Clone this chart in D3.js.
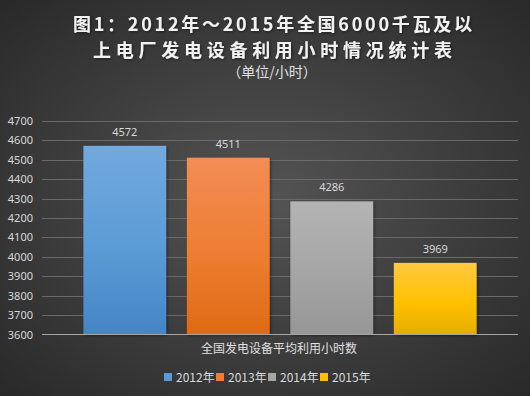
<!DOCTYPE html>
<html>
<head>
<meta charset="utf-8">
<script src="https://cdn.jsdelivr.net/npm/d3@7"></script>
<style>
  html, body { margin: 0; padding: 0; background: #333; }
  svg { display: block; font-family: "Noto Sans CJK SC", "Noto Sans", sans-serif; }
</style>
</head>
<body>
<div id="chart"></div>
<script>
const years = ["2012年", "2013年", "2014年", "2015年"];
const hours = [4572, 4511, 4286, 3969];
const yTicks = [3600, 3700, 3800, 3900, 4000, 4100, 4200, 4300, 4400, 4500, 4600, 4700];
const titleLines = ["图1：2012年～2015年全国6000千瓦及以", "上电厂发电设备利用小时情况统计表"];
const subTitle = "（单位/小时）";
const categoryName = "全国发电设备平均利用小时数";
// top, middle, bottom colour of each bar gradient
const barColors = [
  ["#72a9de", "#5b9bd5", "#4485c6"],
  ["#f28d55", "#ed7d31", "#df6a14"],
  ["#b4b4b4", "#a5a5a5", "#969696"],
  ["#ffc940", "#ffc000", "#e5ad00"]
];

const width = 530, height = 396;
const plotLeft = 42, plotRight = 518, plotTop = 121, plotBottom = 334.5;

const svg = d3.select('#chart').append('svg')
  .attr('width', width)
  .attr('height', height);

const defs = svg.append('defs');

const bg = defs.append('radialGradient')
  .attr('id', 'bg')
  .attr('cx', '50%').attr('cy', '50%').attr('r', '75%');
bg.append('stop').attr('offset', '0%').attr('stop-color', '#545454');
bg.append('stop').attr('offset', '100%').attr('stop-color', '#262626');

barColors.forEach((c, i) => {
  const g = defs.append('linearGradient')
    .attr('id', 'bar' + i)
    .attr('x1', 0).attr('y1', 0).attr('x2', 0).attr('y2', 1);
  g.append('stop').attr('offset', '0%').attr('stop-color', c[0]);
  g.append('stop').attr('offset', '55%').attr('stop-color', c[1]);
  g.append('stop').attr('offset', '100%').attr('stop-color', c[2]);
});

const shadow = defs.append('filter').attr('id', 'shadow')
  .attr('x', '-20%').attr('y', '-20%').attr('width', '140%').attr('height', '140%');
shadow.append('feDropShadow')
  .attr('dx', 1).attr('dy', 1).attr('stdDeviation', 1.5)
  .attr('flood-color', '#000').attr('flood-opacity', 0.5);

svg.append('rect')
  .attr('width', width).attr('height', height)
  .attr('fill', 'url(#bg)');

// title: spread the letters so each line spans the width it has in the picture
const titleWidths = [399, 359];
const title = svg.append('g').attr('filter', 'url(#shadow)');
title.selectAll('text.title')
  .data(titleLines)
  .enter().append('text')
  .attr('class', 'title')
  .attr('x', (d, i) => 272.5 - titleWidths[i] / 2)
  .attr('y', (d, i) => 31 + i * 26)
  .attr('fill', '#f2f2f2')
  .style('font-size', '18px')
  .style('font-weight', 'bold')
  .text(d => d)
  .each(function(d, i) {
    const natural = this.getComputedTextLength();
    const gap = (titleWidths[i] - natural) / (d.length - 1);
    d3.select(this).style('letter-spacing', gap + 'px');
  });

svg.append('text')
  .attr('x', 272)
  .attr('y', 76.5)
  .attr('text-anchor', 'middle')
  .attr('fill', '#e0e0e0')
  .style('font-size', '14px')
  .text(subTitle);

// scales
const y = d3.scaleLinear()
  .domain([3600, 4700])
  .range([plotBottom, plotTop]);

const x = d3.scaleBand()
  .domain(years)
  .range([plotLeft, plotRight])
  .paddingInner(0.2)
  .paddingOuter(0.4);

// gridlines
svg.append('g')
  .selectAll('line')
  .data(yTicks.slice(1))
  .enter().append('line')
  .attr('x1', plotLeft).attr('x2', plotRight)
  .attr('y1', d => Math.round(y(d)) + 0.5)
  .attr('y2', d => Math.round(y(d)) + 0.5)
  .attr('stroke', '#6a6a6a')
  .attr('stroke-width', 1);

// y axis labels
const yAxis = svg.append('g')
  .attr('transform', `translate(${plotLeft},0)`)
  .call(d3.axisLeft(y).tickValues(yTicks).tickFormat(d3.format('d')).tickSize(0).tickPadding(9));
yAxis.select('.domain').remove();
yAxis.selectAll('text')
  .attr('fill', '#d9d9d9')
  .style('font-size', '11px')
  .style('font-family', '"Noto Sans", sans-serif');

// bars
svg.append('g')
  .selectAll('rect')
  .data(hours)
  .enter().append('rect')
  .attr('x', (d, i) => x(years[i]))
  .attr('y', d => y(d))
  .attr('width', x.bandwidth())
  .attr('height', d => plotBottom - y(d))
  .attr('fill', (d, i) => `url(#bar${i})`)
  .attr('filter', 'url(#shadow)');

// value labels
svg.append('g')
  .selectAll('text')
  .data(hours)
  .enter().append('text')
  .attr('x', (d, i) => x(years[i]) + x.bandwidth() / 2)
  .attr('y', d => y(d) - 10)
  .attr('text-anchor', 'middle')
  .attr('fill', '#d9d9d9')
  .style('font-size', '11px')
  .style('font-family', '"Noto Sans", sans-serif')
  .text(d => d);

// x axis line
svg.append('line')
  .attr('x1', plotLeft).attr('x2', plotRight)
  .attr('y1', plotBottom).attr('y2', plotBottom)
  .attr('stroke', '#a6a6a6')
  .attr('stroke-width', 1.2);

svg.append('text')
  .attr('x', (plotLeft + plotRight) / 2 - 1)
  .attr('y', 353)
  .attr('text-anchor', 'middle')
  .attr('fill', '#e0e0e0')
  .style('font-size', '12px')
  .text(categoryName);

// legend
const legend = svg.append('g')
  .selectAll('g')
  .data(years)
  .enter().append('g')
  .attr('transform', (d, i) => `translate(${164 + i * 52},377)`);

legend.append('rect')
  .attr('x', 0).attr('y', -4)
  .attr('width', 8).attr('height', 8)
  .attr('fill', (d, i) => barColors[i][1]);

legend.append('text')
  .attr('x', 12)
  .attr('y', 4.5)
  .attr('fill', '#d9d9d9')
  .style('font-size', '12px')
  .text(d => d);
</script>
</body>
</html>
